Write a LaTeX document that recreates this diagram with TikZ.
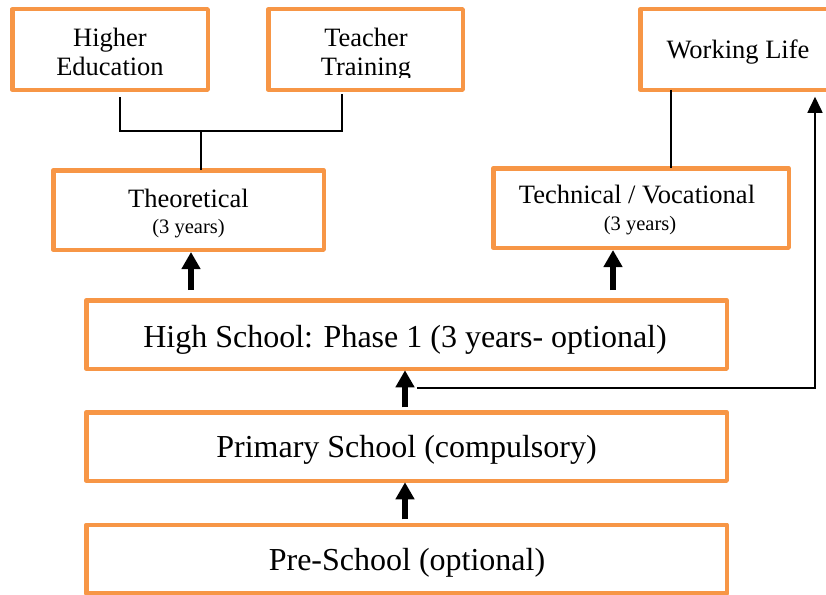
\documentclass[tikz,border=0pt]{standalone}
\usepackage{fontspec}
\setmainfont{Liberation Serif}
\usetikzlibrary{arrows.meta,calc}
\definecolor{boxorange}{RGB}{247,150,70}
\tikzset{
  box/.style={draw=boxorange, line width=4.5pt, line join=round, rectangle, inner sep=0pt, outer sep=0pt, fill=white},
  bigtxt/.style={anchor=base, inner sep=0pt, font=\fontsize{32}{35}\selectfont},
  midtxt/.style={anchor=base, inner sep=0pt, font=\fontsize{26.5}{29}\selectfont},
  smalltxt/.style={anchor=base, inner sep=0pt, font=\fontsize{20.5}{23}\selectfont},
  thinline/.style={line width=1.5pt, black},
  thinarrow/.style={line width=1.5pt, black, -{Triangle[width=15pt,length=16pt]}},
  thickarrow/.style={line width=6pt, black, -{Triangle[width=18pt,length=17pt]}}
}
\begin{document}
\begin{tikzpicture}[x=1pt,y=-1pt]
\useasboundingbox (0,0) rectangle (826,594);
\clip (0,0) rectangle (826,594);
% boxes
\node[box, minimum width=195.5pt, minimum height=80.5pt] (he) at (110,49.5) {};
\node[box, minimum width=194.5pt, minimum height=80.5pt] (tt) at (365.5,49.5) {};
\node[box, minimum width=259.5pt, minimum height=80.5pt] (wl) at (770,49.5) {};
\node[box, minimum width=270.5pt, minimum height=79.5pt] (theor) at (188.5,210) {};
\node[box, minimum width=295.5pt, minimum height=79.5pt] (tech) at (641,208) {};
\node[box, minimum width=640.5pt, minimum height=68.5pt] (hs) at (406.5,334.5) {};
\node[box, minimum width=640.5pt, minimum height=68.5pt] (prim) at (406.5,446.5) {};
\node[box, minimum width=640.5pt, minimum height=68.5pt] (pre) at (406.5,559) {};
% texts
\node[midtxt] (he1) at (110,46) {Higher};
\node[midtxt] (he2) at (110,75) {Education};
\node[midtxt] (tt1) at (366,46) {Teacher};
\begin{scope}
\clip (268,0) rectangle (463,77);
\node[midtxt] (tt2) at (366,75) {Training};
\end{scope}
\node[midtxt] (wl1) at (738,59) {Working Life};
\node[midtxt] (th1) at (188.5,207) {Theoretical};
\node[smalltxt] (th2) at (188.5,233) {(3 years)};
\node[midtxt] (te1) at (637,203) {Technical / Vocational};
\node[smalltxt] (te2) at (640,230) {(3 years)};
\node[bigtxt] (hs1) at (405,347) {High School: Phase 1 (3 years- optional)};
\node[bigtxt] (pr1) at (406.5,457) {Primary School (compulsory)};
\node[bigtxt] (pe1) at (407,570) {Pre-School (optional)};
% connectors
\coordinate (j) at (201,131);
\draw[thinline] ($(he.south)+(10,7.25)$) |- (j) -| ($(tt.south)+(-23.5,4.25)$);
\draw[thinline] (j) -- (j |- theor.north);
\coordinate (wt) at (671,0);
\draw[thinline] (wt |- wl.south) -- (wt |- tech.north);
\coordinate (a1) at (191,0);
\coordinate (a2) at (613,0);
\coordinate (a3) at (405,0);
\draw[thickarrow] ($(a1 |- hs.north)+(0,-10.25)$) -- ($(a1 |- theor.south)+(0,2.25)$);
\draw[thickarrow] ($(a2 |- hs.north)+(0,-10.25)$) -- ($(a2 |- tech.south)+(0,2.25)$);
\draw[thickarrow] ($(a3 |- prim.north)+(0,-5)$) -- ($(a3 |- hs.south)+(0,1.5)$);
\draw[thickarrow] ($(a3 |- pre.north)+(0,-5.5)$) -- ($(a3 |- prim.south)+(0,1.5)$);
\coordinate (s) at (417,388);
\coordinate (wa) at (815,0);
\draw[thinarrow] (s) -| ($(wa |- wl.south)+(0,7)$);
\end{tikzpicture}
\end{document}
